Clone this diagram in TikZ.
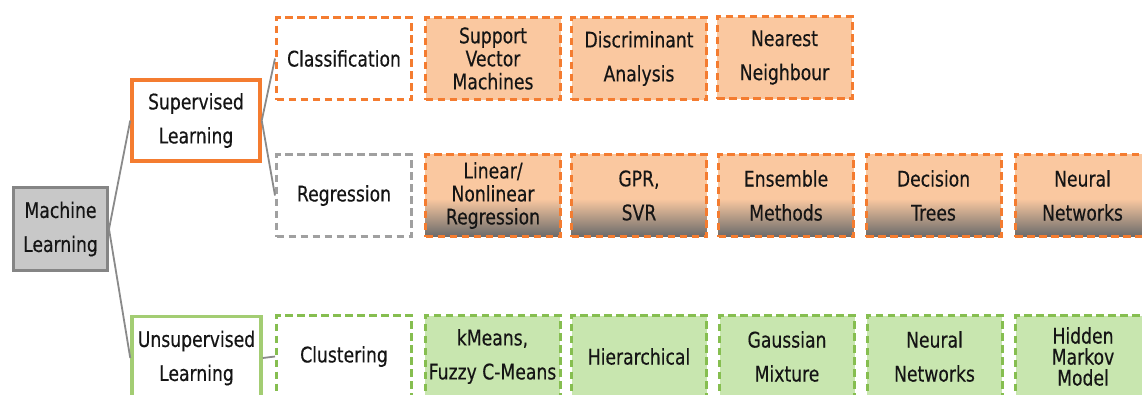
\documentclass[tikz,border=0pt]{standalone}
\usepackage{fontspec}
\setmainfont{DejaVu Sans}[FakeStretch=0.8, FakeBold=0.3]
\definecolor{orng}{HTML}{F47C30}
\definecolor{peach}{HTML}{FAC8A0}
\definecolor{grn}{HTML}{86BE50}
\definecolor{grnfill}{HTML}{C8E6AF}
\definecolor{grnsolid}{HTML}{A3CD73}
\definecolor{dgray}{HTML}{A0A0A0}
\definecolor{mlfill}{HTML}{C8C8C8}
\definecolor{mlborder}{HTML}{858585}
\definecolor{shgray}{HTML}{6A6A6A}
\definecolor{txt}{HTML}{151515}
\definecolor{conncol}{HTML}{8A8A8A}
\pgfdeclareverticalshading{regshade}{100bp}{color(0bp)=(shgray); color(25bp)=(shgray); color(48bp)=(peach); color(100bp)=(peach)}
\begin{document}
\begin{tikzpicture}[x=1pt,y=-1pt,
  base/.style={inner sep=0pt, align=center, text=txt, line width=3pt,
    font=\fontsize{21.5}{34}\selectfont},
  tight/.style={font=\fontsize{21.5}{23}\selectfont},
  vtight/.style={font=\fontsize{21.5}{21}\selectfont},
  cell/.style={base, minimum width=135pt, minimum height=82pt},
  dsh/.style={dash pattern=on 7.5pt off 4.5pt},
  orbox/.style={cell, draw=orng, dsh, fill=peach},
  regbox/.style={cell, draw=orng, dsh, shade, shading=regshade},
  grbox/.style={cell, draw=grn, dsh, fill=grnfill},
  conn/.style={draw=conncol, line width=1.8pt}
]
\useasboundingbox (0,0) rectangle (1142,394);
\clip (0,0) rectangle (1142,394);
\fill[white] (0,0) rectangle (1142,394);

% left column
\node[base, draw=mlborder, fill=mlfill, minimum width=94pt, minimum height=83pt] (ml) at (60.5,229) {Machine\\Learning};
\node[base, draw=orng, line width=3.5pt, fill=white, minimum width=128pt, minimum height=81pt] (sup) at (196,120.5) {Supervised\\Learning};
\node[base, draw=grnsolid, line width=3.5pt, fill=white, minimum width=129pt, minimum height=83pt] (uns) at (196.5,358) {Unsupervised\\Learning};

% category column
\node[cell, draw=orng, dsh, fill=white] (cls) at (344,58.5) {Classification};
\node[cell, draw=dgray, dsh, fill=white] (reg) at (344,195.5) {Regression};
\node[cell, draw=grn, dsh, fill=white] (clu) at (344,356.5) {Clustering};

% classification row
\node[orbox, tight] (svm) at (493,58.5) {Support\\Vector\\Machines};
\node[orbox] (da) at (639,58.5) {Discriminant\\Analysis};
\node[orbox] (nn1) at (784.5,57.5) {Nearest\\Neighbour};

% regression row
\node[regbox, tight] (lin) at (493,195.5) {Linear/\\Nonlinear\\Regression};
\node[regbox] (gpr) at (639,195.5) {GPR,\\SVR};
\node[regbox] (ens) at (786,195.5) {Ensemble\\Methods};
\node[regbox] (dt) at (933.5,195.5) {Decision\\Trees};
\node[regbox] (nnr) at (1082.5,195.5) {Neural\\Networks};

% clustering row
\node[grbox] (km) at (492.5,356.5) {kMeans,\\Fuzzy C-Means};
\node[grbox] (hi) at (639,356.5) {Hierarchical};
\node[grbox] (gm) at (787,356.5) {Gaussian\\Mixture};
\node[grbox] (nnc) at (934.5,356.5) {Neural\\Networks};
\node[grbox, vtight] (hmm) at (1083,356.5) {Hidden\\Markov\\Model};

% connectors
\draw[conn] (ml.east) -- (sup.west);
\draw[conn] (ml.east) -- (uns.west);
\draw[conn] (sup.east) -- (cls.west);
\draw[conn] (sup.east) -- (reg.west);
\draw[conn] (uns.east) -- (clu.west);
\end{tikzpicture}
\end{document}
